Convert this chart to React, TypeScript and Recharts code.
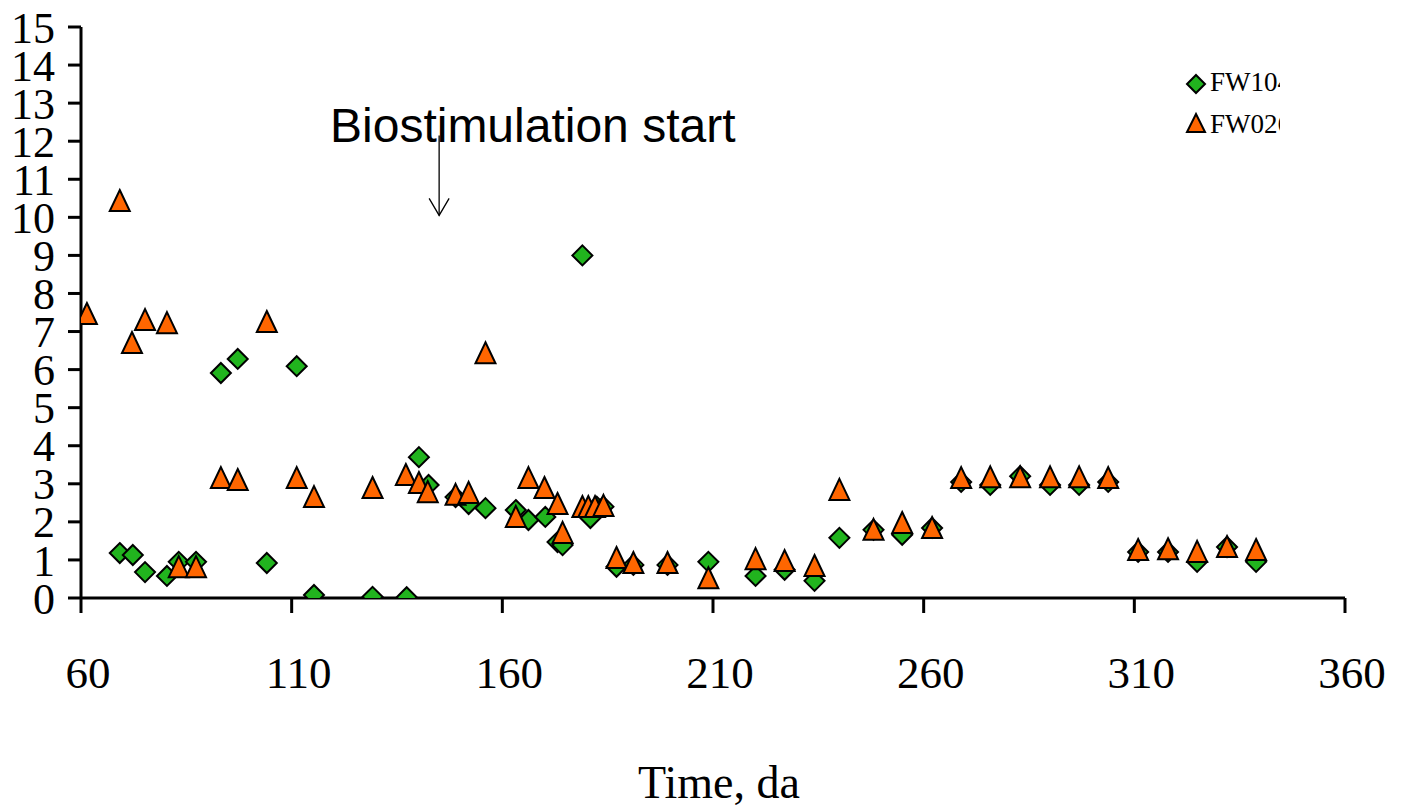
import React from 'react';
import { ScatterChart, Scatter, XAxis, YAxis, ReferenceLine } from 'recharts';

const fw104Days = [69.2, 72.3, 75.2, 80.4, 83.2, 87.3, 93.2, 97.2, 104.1, 111.2, 115.3, 129.2, 137.3, 140.2, 142.5, 148.9, 152.0, 156.0, 163.2, 166.2, 170.2, 173.1, 174.3, 179.0, 180.9, 182.4, 184.0, 187.1, 191.1, 199.2, 208.9, 220.1, 227.0, 234.1, 240.0, 248.1, 254.9, 262.0, 268.9, 275.8, 282.9, 290.0, 296.9, 303.8, 310.9, 318.0, 324.9, 332.0, 338.9];
const fw104Values = [1.18, 1.13, 0.68, 0.58, 0.95, 0.95, 5.91, 6.28, 0.92, 6.09, 0.08, 0.03, 0.02, 3.70, 2.97, 2.65, 2.47, 2.36, 2.31, 2.05, 2.13, 1.47, 1.39, 9.0, 2.10, 2.4, 2.4, 0.82, 0.87, 0.87, 0.95, 0.58, 0.74, 0.45, 1.58, 1.79, 1.66, 1.84, 3.05, 2.97, 3.2, 2.97, 2.97, 3.05, 1.21, 1.21, 0.95, 1.34, 0.95];

const fw026Days = [61.4, 69.2, 72.1, 75.2, 80.4, 83.2, 87.3, 93.2, 97.2, 104.1, 111.2, 115.3, 129.2, 137.1, 140.2, 142.3, 148.9, 152.0, 156.0, 163.2, 166.2, 170.0, 173.1, 174.3, 179.0, 180.4, 182.0, 184.0, 187.1, 191.1, 199.2, 208.9, 220.1, 227.0, 234.1, 240.0, 248.1, 254.9, 262.0, 268.9, 275.8, 282.9, 290.0, 296.9, 303.8, 310.9, 318.0, 324.9, 332.0, 338.9];
const fw026Values = [7.46, 10.43, 6.70, 7.30, 7.22, 0.81, 0.81, 3.15, 3.10, 7.25, 3.15, 2.65, 2.89, 3.23, 3.02, 2.78, 2.71, 2.76, 6.43, 2.13, 3.15, 2.89, 2.47, 1.71, 2.39, 2.39, 2.39, 2.42, 1.05, 0.92, 0.92, 0.52, 1.02, 0.97, 0.84, 2.84, 1.79, 1.97, 1.84, 3.15, 3.17, 3.17, 3.17, 3.17, 3.15, 1.26, 1.28, 1.21, 1.34, 1.26];

const xTicks = [60, 110, 160, 210, 260, 310, 360];
const yTicks = [0, 1, 2, 3, 4, 5, 6, 7, 8, 9, 10, 11, 12, 13, 14, 15];
const seriesNames = ['FW104', 'FW026'];
const annotationText = 'Biostimulation start';
const arrowDay = 145;
const arrowFrom = 12.15;
const arrowTo = 10.05;

const GREEN = '#21B41E';
const ORANGE = '#FF6600';
const SERIF = '"Liberation Serif", "Times New Roman", serif';
const SANS = '"Liberation Sans", Arial, sans-serif';

const fw104Data = fw104Days.map((x, i) => ({ x, y: fw104Values[i] }));
const fw026Data = fw026Days.map((x, i) => ({ x, y: fw026Values[i] }));

const Diamond = (props: any) => {
  const { cx, cy } = props;
  if (cx == null || cy == null) return null;
  return (
    <path
      d={`M${cx},${cy - 10}L${cx + 10},${cy}L${cx},${cy + 10}L${cx - 10},${cy}Z`}
      fill={GREEN}
      stroke="#000"
      strokeWidth={2}
      strokeLinejoin="miter"
    />
  );
};

const Triangle = (props: any) => {
  const { cx, cy } = props;
  if (cx == null || cy == null) return null;
  return (
    <path
      d={`M${cx},${cy - 11}L${cx + 10},${cy + 10}L${cx - 10},${cy + 10}Z`}
      fill={ORANGE}
      stroke="#000"
      strokeWidth={2}
      strokeLinejoin="miter"
    />
  );
};

const Arrow = (props: any) => {
  const { x1, y1, x2, y2 } = props;
  if (x1 == null) return null;
  return (
    <g>
      <line x1={x1} y1={y1} x2={x2} y2={y2} stroke="#000" strokeWidth={1.3} />
      <path d={`M${x2 - 10},${y2 - 17}L${x2},${y2}L${x2 + 10},${y2 - 17}`} fill="none" stroke="#000" strokeWidth={1.3} />
    </g>
  );
};

export default function App() {
  return (
    <div style={{ position: 'absolute', left: 0, top: 0, width: 1401, height: 808, background: '#fff' }}>
      <ScatterChart width={1401} height={808} margin={{ top: 27, right: 56, bottom: 0, left: 0 }}>
        <XAxis
          type="number"
          dataKey="x"
          domain={[60, 360]}
          ticks={xTicks}
          interval={0}
          allowDataOverflow
          height={210}
          tickSize={15}
          tickMargin={43}
          axisLine={{ stroke: '#000', strokeWidth: 3 }}
          tickLine={{ stroke: '#000', strokeWidth: 3 }}
          tick={{ fontFamily: SERIF, fontSize: 45, fill: '#000', dx: 7 }}
          label={{ value: 'Time, da', position: 'insideBottom', offset: 10, dx: 6, style: { fontFamily: SERIF, fontSize: 46, fill: '#000' } }}
        />
        <YAxis
          type="number"
          dataKey="y"
          domain={[0, 15]}
          ticks={yTicks}
          interval={0}
          allowDataOverflow
          width={81}
          tickSize={13}
          tickMargin={13}
          axisLine={{ stroke: '#000', strokeWidth: 3 }}
          tickLine={{ stroke: '#000', strokeWidth: 3 }}
          tick={{ fontFamily: SERIF, fontSize: 44, fill: '#000' }}
        />
        <ReferenceLine
          segment={[{ x: arrowDay, y: arrowFrom }, { x: arrowDay, y: arrowTo }]}
          stroke="#000"
          shape={Arrow}
        />
        <Scatter name={seriesNames[0]} data={fw104Data} shape={Diamond} isAnimationActive={false} />
        <Scatter name={seriesNames[1]} data={fw026Data} shape={Triangle} isAnimationActive={false} />
      </ScatterChart>
      <svg width={1401} height={808} style={{ position: 'absolute', left: 0, top: 0, pointerEvents: 'none' }}>
        <defs>
          <clipPath id="legendClip">
            <rect x={1180} y={60} width={100} height={90} />
          </clipPath>
        </defs>
        <text x={330} y={142} fontFamily={SANS} fontSize={48} fill="#000">{annotationText}</text>
        <g clipPath="url(#legendClip)">
          <path d="M1196,75L1205,84L1196,93L1187,84Z" fill={GREEN} stroke="#000" strokeWidth={2} />
          <text x={1210} y={91} fontFamily={SERIF} fontSize={27} fill="#000">{seriesNames[0]}</text>
          <path d="M1196,114L1205,132L1187,132Z" fill={ORANGE} stroke="#000" strokeWidth={2} />
          <text x={1210} y={133} fontFamily={SERIF} fontSize={27} fill="#000">{seriesNames[1]}</text>
        </g>
      </svg>
    </div>
  );
}
